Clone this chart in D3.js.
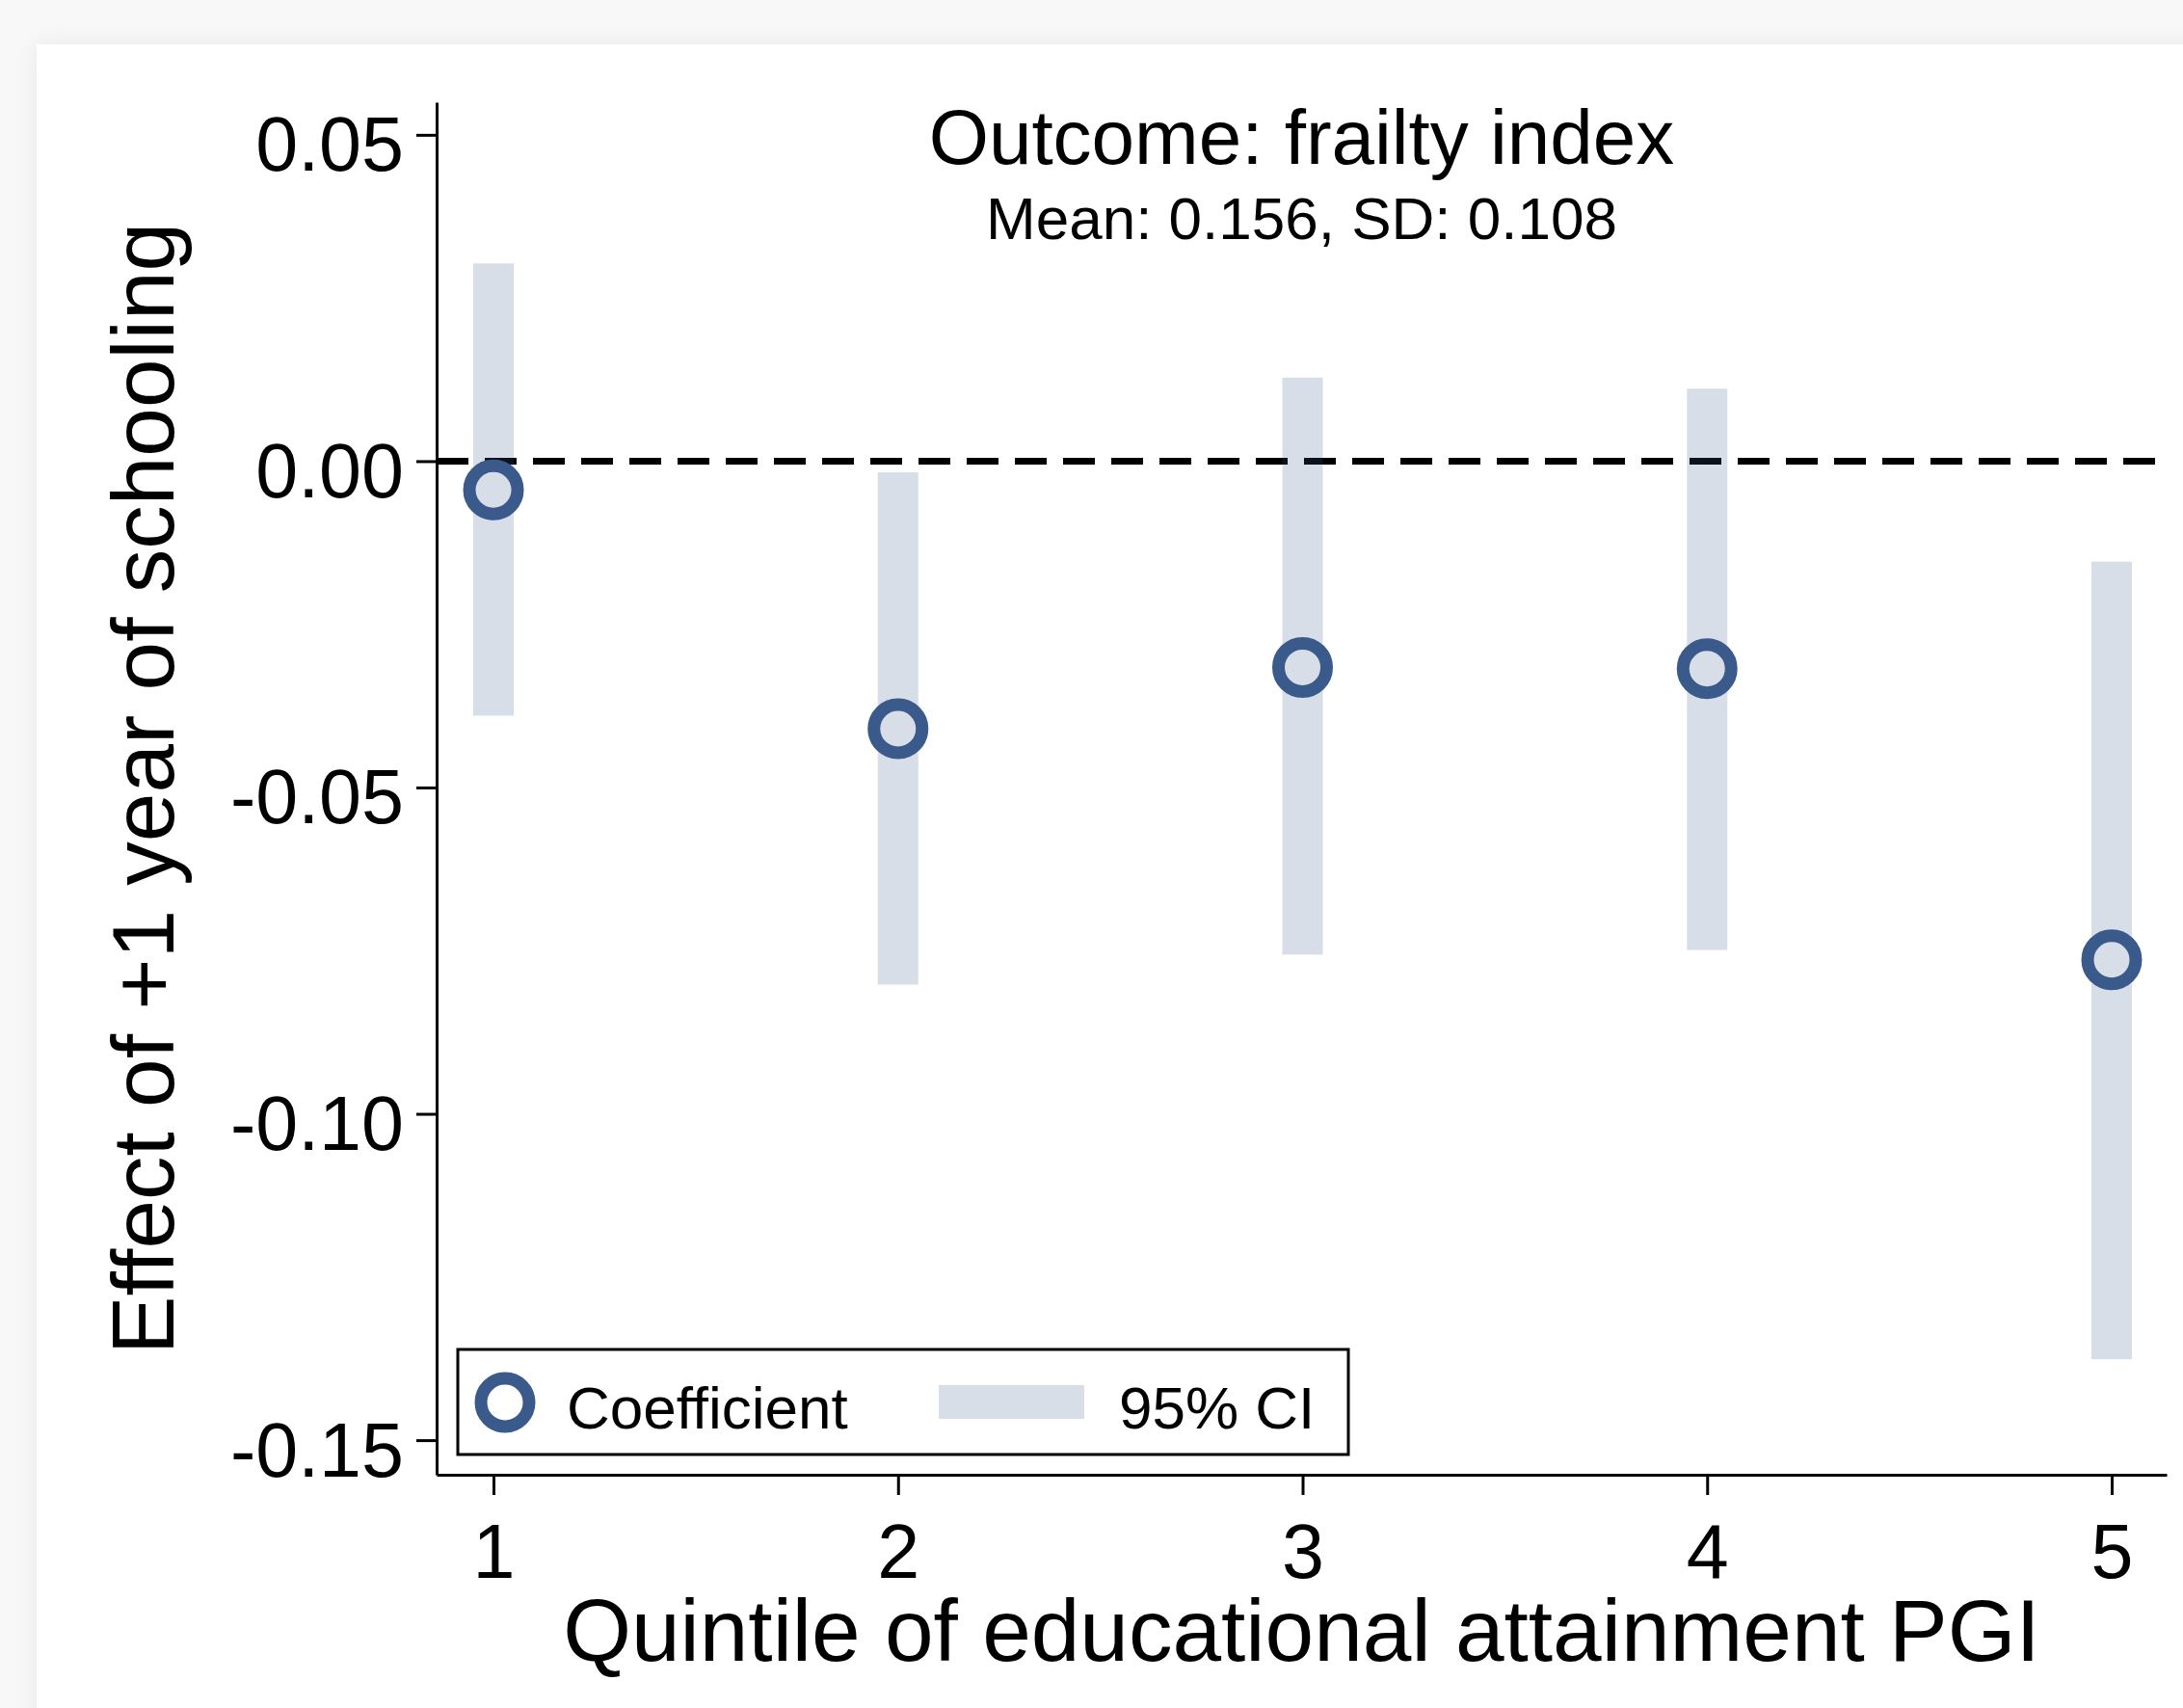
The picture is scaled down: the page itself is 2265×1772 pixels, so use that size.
<!DOCTYPE html>
<html>
<head>
<meta charset="utf-8">
<script src="https://cdn.jsdelivr.net/npm/d3@7"></script>
<style>
  html, body { margin: 0; padding: 0; background: #f7f7f7; }
  svg { display: block; font-family: "Liberation Sans", Arial, Helvetica, sans-serif; }
</style>
</head>
<body>
<script>
// Effect of one extra year of schooling on the frailty index, by PGI quintile
const quintiles = [1, 2, 3, 4, 5];
const coef   = [-0.0044, -0.0410, -0.0316, -0.0318, -0.0764];
const ciLow  = [-0.0390, -0.0802, -0.0756, -0.0749, -0.1376];
const ciHigh = [ 0.0303, -0.0017,  0.0128,  0.0111, -0.0154];
const yTicks = [0.05, 0.00, -0.05, -0.10, -0.15];
const yTickLabels = ["0.05", "0.00", "-0.05", "-0.10", "-0.15"];
const xTicks = [1, 2, 3, 4, 5];

const titleText = "Outcome: frailty index";
const subtitleText = "Mean: 0.156, SD: 0.108";
const yTitle = "Effect of +1 year of schooling";
const xTitle = "Quintile of educational attainment PGI";
const legendLabels = ["Coefficient", "95% CI"];

const W = 2265, H = 1772;
const navy = "#3a5a8c";

const svg = d3.select("body").append("svg")
  .attr("width", W).attr("height", H);

// soft panel shadow
const defs = svg.append("defs");
const f = defs.append("filter").attr("id", "shadow")
  .attr("x", "-5%").attr("y", "-5%").attr("width", "110%").attr("height", "110%");
f.append("feGaussianBlur").attr("in", "SourceAlpha").attr("stdDeviation", 14).attr("result", "b");
f.append("feComponentTransfer").attr("in", "b").attr("result", "s")
  .append("feFuncA").attr("type", "linear").attr("slope", 0.07);
const m = f.append("feMerge");
m.append("feMergeNode").attr("in", "s");
m.append("feMergeNode").attr("in", "SourceGraphic");

svg.append("rect").attr("width", W).attr("height", H).attr("fill", "#f8f8f8");
svg.append("rect")
  .attr("x", 38).attr("y", 46).attr("width", W + 40).attr("height", H + 40)
  .attr("fill", "#ffffff").attr("filter", "url(#shadow)");

// scales
const x = d3.scaleLinear().domain([0.8594, 5.1358]).range([453, 2248]);
const y = d3.scaleLinear().domain([-0.1553, 0.0550]).range([1530, 106]);

const data = quintiles.map((q, i) => ({ q, b: coef[i], lo: ciLow[i], hi: ciHigh[i] }));

// zero reference line
svg.append("line")
  .attr("x1", x.range()[0]).attr("x2", x.range()[1])
  .attr("y1", y(0)).attr("y2", y(0))
  .attr("stroke", "#000").attr("stroke-width", 7)
  .attr("stroke-dasharray", "33 17");

// confidence intervals
const barW = 42;
svg.append("g").selectAll("rect").data(data).join("rect")
  .attr("x", d => x(d.q) - barW / 2)
  .attr("width", barW)
  .attr("y", d => y(d.hi))
  .attr("height", d => y(d.lo) - y(d.hi))
  .attr("fill", navy).attr("fill-opacity", 0.2);

// point estimates
svg.append("g").selectAll("circle").data(data).join("circle")
  .attr("cx", d => x(d.q)).attr("cy", d => y(d.b))
  .attr("r", 25)
  .attr("fill", "none").attr("stroke", navy).attr("stroke-width", 13);

// axes
const yAxis = d3.axisLeft(y)
  .tickValues(yTicks)
  .tickFormat((d, i) => yTickLabels[i])
  .tickSize(21).tickSizeOuter(0).tickPadding(13);
const gy = svg.append("g").attr("transform", `translate(${x.range()[0]},0)`).call(yAxis);

const xAxis = d3.axisBottom(x)
  .tickValues(xTicks)
  .tickFormat(d3.format("d"))
  .tickSize(21).tickSizeOuter(0);
const gx = svg.append("g").attr("transform", `translate(0,${y.range()[0]})`).call(xAxis);

[gx, gy].forEach(g => {
  g.select(".domain").attr("stroke", "#000").attr("stroke-width", 3);
  g.selectAll(".tick line").attr("stroke", "#000").attr("stroke-width", 3);
  g.selectAll(".tick text")
    .attr("fill", "#000")
    .style("font-family", "'Liberation Sans', Arial, sans-serif")
    .style("font-size", "79px");
});
gy.selectAll(".tick text").attr("dy", "37px");
gx.selectAll(".tick text").attr("y", 107).attr("dy", 0);

// titles
const cx = (x.range()[0] + x.range()[1]) / 2;
svg.append("text")
  .attr("x", cx).attr("y", 170)
  .attr("text-anchor", "middle")
  .style("font-size", "80px").text(titleText);
svg.append("text")
  .attr("x", cx).attr("y", 248)
  .attr("text-anchor", "middle")
  .style("font-size", "62px").text(subtitleText);

svg.append("text")
  .attr("transform", `translate(180,${(y.range()[0] + y.range()[1]) / 2}) rotate(-90)`)
  .attr("text-anchor", "middle")
  .style("font-size", "91px").text(yTitle);
svg.append("text")
  .attr("x", cx).attr("y", 1723)
  .attr("text-anchor", "middle")
  .style("font-size", "91px").text(xTitle);

// legend
const lg = svg.append("g");
lg.append("rect")
  .attr("x", 475).attr("y", 1400).attr("width", 924).attr("height", 109)
  .attr("fill", "#fff").attr("stroke", "#000").attr("stroke-width", 3);
lg.append("circle")
  .attr("cx", 524).attr("cy", 1455).attr("r", 25)
  .attr("fill", "none").attr("stroke", navy).attr("stroke-width", 13);
lg.append("text").attr("x", 588).attr("y", 1482)
  .style("font-size", "62px").text(legendLabels[0]);
lg.append("rect")
  .attr("x", 974).attr("y", 1437).attr("width", 151).attr("height", 35)
  .attr("fill", navy).attr("fill-opacity", 0.2);
lg.append("text").attr("x", 1161).attr("y", 1482)
  .style("font-size", "62px").text(legendLabels[1]);
</script>
</body>
</html>
